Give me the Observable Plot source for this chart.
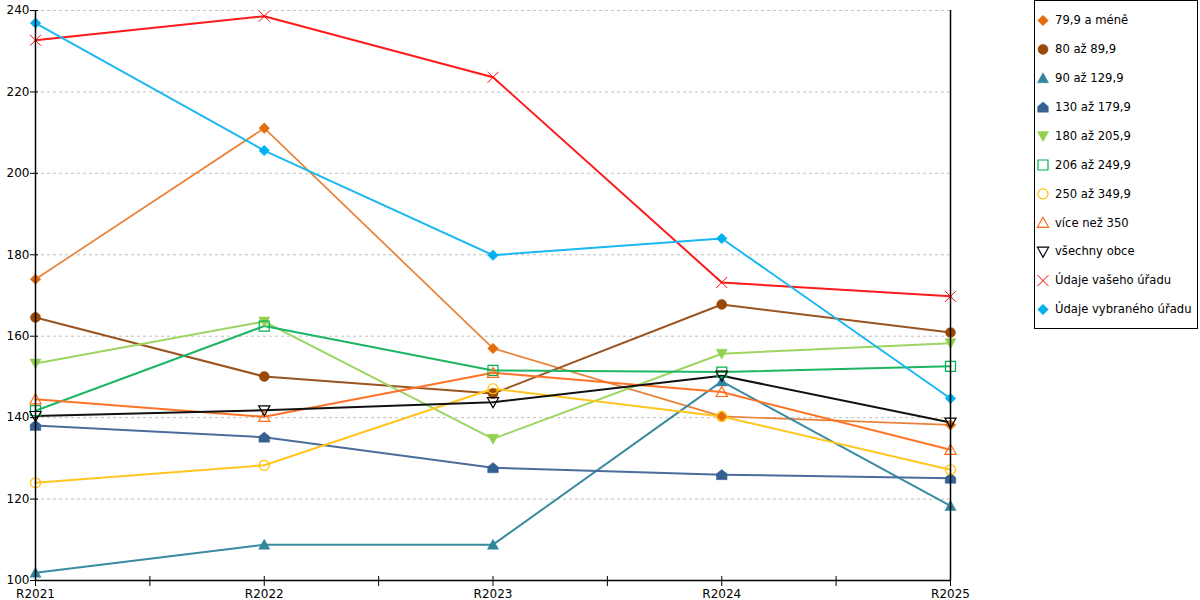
<!DOCTYPE html>
<html>
<head>
<meta charset="utf-8">
<script src="https://cdn.jsdelivr.net/npm/d3@7"></script>
<script src="https://cdn.jsdelivr.net/npm/@observablehq/plot@0.6"></script>
<style>
  html, body { margin: 0; padding: 0; background: #fff; }
  #wrap { position: relative; width: 1200px; height: 600px; overflow: hidden; font-family: "DejaVu Sans", sans-serif; }
  #chart { position: absolute; left: 0; top: 0; }
  #legend { position: absolute; left: 1034px; top: 0px; border: 1px solid #000; line-height: 0; }
</style>
</head>
<body>
<div id="wrap"><div id="chart"></div><div id="legend"></div></div>
<script>
// ---- data ----
const years = ["R2021", "R2022", "R2023", "R2024", "R2025"];
const seriesNames = ["79,9 a méně", "80 až 89,9", "90 až 129,9", "130 až 179,9", "180 až 205,9",
  "206 až 249,9", "250 až 349,9", "více než 350", "všechny obce", "Údaje vašeho úřadu", "Údaje vybraného úřadu"];
const s79  = [174.0, 211.1, 157.0, 140.3, 138.2];
const s80  = [164.6, 150.1, 145.9, 167.8, 160.9];
const s90  = [101.9, 108.8, 108.8, 148.9, 118.3];
const s130 = [138.1, 135.2, 127.7, 126.0, 125.1];
const s180 = [153.3, 163.6, 134.8, 155.7, 158.3];
const s206 = [141.7, 162.5, 151.6, 151.2, 152.6];
const s250 = [124.0, 128.3, 147.1, 140.3, 127.2];
const s350 = [144.5, 140.2, 151.0, 146.3, 132.1];
const sAll = [140.4, 141.8, 143.8, 150.3, 138.8];
const sVas = [232.7, 238.6, 223.6, 173.2, 169.8];
const sVyb = [236.9, 205.6, 179.9, 184.0, 144.7];
const yTicks = [100, 120, 140, 160, 180, 200, 220, 240];
const gridTicks = [120, 140, 160, 180, 200, 220, 240];
const xTickVals = [0, 0.5, 1, 1.5, 2, 2.5, 3, 3.5, 4];

// ---- custom marker shapes ----
function poly(pts) {
  return {
    draw(ctx, size) {
      const s = Math.sqrt(size / Math.PI) / 5;
      ctx.moveTo(pts[0][0] * s, pts[0][1] * s);
      for (let i = 1; i < pts.length; i++) ctx.lineTo(pts[i][0] * s, pts[i][1] * s);
      ctx.closePath();
    }
  };
}
const symDiamond = poly([[0, -5.3], [5.3, 0], [0, 5.3], [-5.3, 0]]);
const symTriUp = poly([[0, -5.5], [5.6, 4.5], [-5.6, 4.5]]);
const symTriDown = poly([[-5.6, -4.5], [5.6, -4.5], [0, 5.5]]);
const symHouse = poly([[0, -5.2], [5.3, -0.8], [5.3, 5], [-5.3, 5], [-5.3, -0.8]]);
const symSquare = poly([[-5, -5], [5, -5], [5, 5], [-5, 5]]);
const symCircle = { draw(ctx, size) { const r = Math.sqrt(size / Math.PI); ctx.moveTo(r, 0); ctx.arc(0, 0, r, 0, 2 * Math.PI); } };
const symX = { draw(ctx, size) { const s = Math.sqrt(size / Math.PI) / 5;
  ctx.moveTo(-5.5 * s, -5.5 * s); ctx.lineTo(5.5 * s, 5.5 * s); ctx.moveTo(5.5 * s, -5.5 * s); ctx.lineTo(-5.5 * s, 5.5 * s); } };

const seriesValues = [s79, s80, s90, s130, s180, s206, s250, s350, sAll, sVas, sVyb];
const styles = [
  {line: "#e8823a", lw: 1.7, sym: symDiamond, fill: "#e46c0a", stroke: "#e46c0a", sw: 0.5},
  {line: "#9a5420", lw: 2, sym: symCircle, fill: "#984807", stroke: "#984807", sw: 0.5},
  {line: "#3a8aa0", lw: 2, sym: symTriUp, fill: "#31859c", stroke: "#31859c", sw: 0.5},
  {line: "#4a6d9c", lw: 2, sym: symHouse, fill: "#376092", stroke: "#376092", sw: 0.5},
  {line: "#9cd562", lw: 2, sym: symTriDown, fill: "#92d050", stroke: "#92d050", sw: 0.5},
  {line: "#1db564", lw: 2, sym: symSquare, fill: "none", stroke: "#00b050", sw: 1.2},
  {line: "#ffc61f", lw: 2, sym: symCircle, fill: "none", stroke: "#ffc000", sw: 1.2},
  {line: "#ff7327", lw: 2, sym: symTriUp, fill: "none", stroke: "#ff6a17", sw: 1.2},
  {line: "#111111", lw: 2, sym: symTriDown, fill: "none", stroke: "#000000", sw: 1.2},
  {line: "#ff1a1a", lw: 2, sym: symX, fill: "none", stroke: "#ff0000", sw: 1},
  {line: "#1ab8f0", lw: 2, sym: symDiamond, fill: "#00b0f0", stroke: "#00b0f0", sw: 0.5}
];

const rows = (vals) => vals.map((v, i) => ({year: years[i], value: v}));
const xOf = (d) => years.indexOf(d.year);

const seriesMarks = [];
seriesNames.forEach((name, k) => {
  const st = styles[k];
  seriesMarks.push(Plot.line(rows(seriesValues[k]), {x: xOf, y: "value", stroke: st.line, strokeWidth: st.lw}));
});
seriesNames.forEach((name, k) => {
  const st = styles[k];
  seriesMarks.push(Plot.dot(rows(seriesValues[k]), {x: xOf, y: "value", r: 5, symbol: st.sym, fill: st.fill, stroke: st.stroke, strokeWidth: st.sw}));
});

const chart = Plot.plot({
  width: 1200,
  height: 600,
  marginLeft: 35,
  marginRight: 250,
  marginTop: 10,
  marginBottom: 20,
  style: {fontFamily: "DejaVu Sans, sans-serif", fontSize: "12px", color: "#000", background: "#fff", overflow: "visible"},
  x: {type: "linear", domain: [0, years.length - 1]},
  y: {type: "linear", domain: [100, 240]},
  marks: [
    Plot.ruleY(gridTicks, {stroke: "#c0c0c0", strokeWidth: 1, strokeDasharray: "3,3"}),
    ...seriesMarks,
    Plot.ruleX([0, years.length - 1], {stroke: "#000", strokeWidth: 1.5}),
    Plot.ruleY([100], {stroke: "#000", strokeWidth: 1.5}),
    Plot.axisY({ticks: yTicks, tickSize: 8, dx: 3, tickPadding: 1, tickFormat: (d) => String(d), label: null, stroke: "#000", fill: "#000"}),
    Plot.axisX({ticks: xTickVals, tickSize: 10, dy: -4, tickPadding: 3, tickFormat: (d) => Number.isInteger(d) ? years[d] : "", label: null, stroke: "#000", fill: "#000"})
  ]
});
document.getElementById("chart").appendChild(chart);

// ---- legend ----
const legendMarks = [];
seriesNames.forEach((name, k) => {
  const st = styles[k];
  legendMarks.push(Plot.dot([k], {x: 7.5, y: (d) => d, r: 5, symbol: st.sym, fill: st.fill, stroke: st.stroke, strokeWidth: st.sw}));
});
legendMarks.push(Plot.text(seriesNames, {x: 19.5, y: (d, i) => i, text: (d) => d, textAnchor: "start", fill: "#000"}));
const legend = Plot.plot({
  width: 162,
  height: 327,
  margin: 0,
  style: {fontFamily: "DejaVu Sans, sans-serif", fontSize: "11.6px", color: "#000", background: "#fff", overflow: "visible"},
  x: {type: "linear", domain: [0, 162], range: [0, 162], axis: null},
  y: {type: "linear", domain: [0, seriesNames.length - 1], range: [19, 308], axis: null},
  marks: legendMarks
});
document.getElementById("legend").appendChild(legend);
</script>
</body>
</html>
